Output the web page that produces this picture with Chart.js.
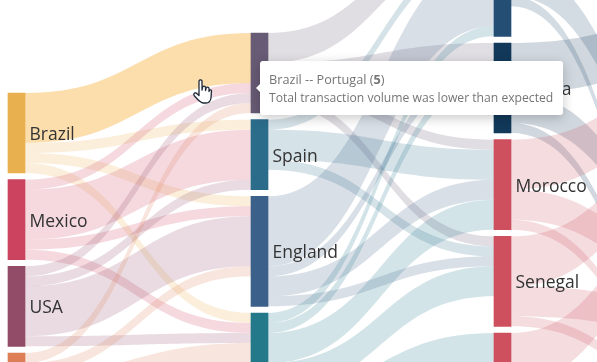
<!DOCTYPE html>
<html>
<head>
<meta charset="utf-8">
<title>Transaction flows</title>
<script src="https://cdn.jsdelivr.net/npm/chart.js@4/dist/chart.umd.min.js"></script>
<style>
    html, body { margin: 0; padding: 0; background: #fff; overflow: hidden; }
    canvas { display: block; }
</style>
</head>
<body>
<canvas id="flows" width="597" height="362"></canvas>
<script>
// Columns, top to bottom.
var columns = [
    ['Brazil', 'Mexico', 'USA', 'Canada'],
    ['Portugal', 'Spain', 'England', 'France'],
    ['South Africa', 'Angola', 'Morocco', 'Senegal', 'Mali'],
    ['China', 'Japan', 'India']
];

var flowFrom = [
    'Brazil', 'Brazil', 'Brazil', 'Brazil',
    'Mexico', 'Mexico', 'Mexico', 'Mexico',
    'USA', 'USA', 'USA', 'USA',
    'Canada', 'Canada', 'Canada',
    'Portugal', 'Portugal', 'Portugal', 'Portugal',
    'Spain', 'Spain', 'Spain',
    'England', 'England', 'England', 'England',
    'France', 'France', 'France', 'France', 'France',
    'South Africa', 'South Africa', 'South Africa',
    'Angola', 'Angola', 'Angola',
    'Morocco', 'Morocco', 'Morocco',
    'Senegal', 'Senegal', 'Senegal',
    'Mali', 'Mali', 'Mali'
];
var flowTo = [
    'Portugal', 'Spain', 'England', 'France',
    'Portugal', 'Spain', 'England', 'France',
    'Portugal', 'Spain', 'England', 'France',
    'Portugal', 'England', 'France',
    'South Africa', 'Angola', 'Morocco', 'Senegal',
    'South Africa', 'Morocco', 'Senegal',
    'South Africa', 'Angola', 'Morocco', 'Senegal',
    'South Africa', 'Angola', 'Morocco', 'Senegal', 'Mali',
    'China', 'Japan', 'India',
    'China', 'Japan', 'India',
    'China', 'Japan', 'India',
    'China', 'Japan', 'India',
    'China', 'Japan', 'India'
];
var flowValues = [
    5, 1, 1, 1,
    1, 5, 1, 1,
    1, 1, 5, 1,
    1, 1, 5,
    3, 2, 1, 1,
    1, 3, 1,
    7, 1, 2, 1,
    1, 1, 3, 3, 3,
    5, 3, 1,
    5, 3, 1,
    5, 3, 1,
    5, 3, 1,
    5, 3, 1
];

var nodeColors = {
    'Brazil': '#e9b04f', 'Mexico': '#cc4360', 'USA': '#934c68', 'Canada': '#dd7e57',
    'Portugal': '#685b75', 'Spain': '#2b6c8b', 'England': '#3b6089', 'France': '#23788a',
    'South Africa': '#254e75', 'Angola': '#12395a',
    'Morocco': '#ce4f5e', 'Senegal': '#ce4f5e', 'Mali': '#ce4f5e',
    'China': '#4a7a8c', 'Japan': '#4a7a8c', 'India': '#4a7a8c'
};

var hoveredFlow = 0;
var tooltipNote = 'Total transaction volume was lower than expected';

var NODE_GAP = 2 / 3;
var NODE_WIDTH = 17;
var LINK_ALPHA = 0.2;
var LABEL_FONT = '17.5px "Open Sans", sans-serif';

/**
 * Stack the nodes of every column up from zero and hand out each flow its slice at both ends.
 */
function buildLayout() {
    var nodes = {};
    var links = [];

    columns.forEach(function (names, col) {
        var sizes = names.map(function (name) {
            var inSum = 0;
            var outSum = 0;
            flowValues.forEach(function (v, i) {
                if (flowTo[i] === name) { inSum += v; }
                if (flowFrom[i] === name) { outSum += v; }
            });
            return Math.max(inSum, outSum);
        });
        var level = sizes.reduce(function (a, b) { return a + b; }, 0) + NODE_GAP * (names.length - 1);
        names.forEach(function (name, i) {
            nodes[name] = {name: name, col: col, top: level, bottom: level - sizes[i], outY: level, inY: level};
            level -= sizes[i] + NODE_GAP;
        });
    });

    flowValues.forEach(function (v, i) {
        links.push({index: i, from: nodes[flowFrom[i]], to: nodes[flowTo[i]], value: v});
    });

    // Slices follow the order of the nodes on the far side.
    links.slice().sort(function (a, b) {
        return a.to.col - b.to.col || columns[a.to.col].indexOf(a.to.name) - columns[b.to.col].indexOf(b.to.name);
    }).forEach(function (l) {
        l.y0 = l.from.outY;
        l.from.outY -= l.value;
    });
    links.slice().sort(function (a, b) {
        return a.from.col - b.from.col ||
            columns[a.from.col].indexOf(a.from.name) - columns[b.from.col].indexOf(b.from.name);
    }).forEach(function (l) {
        l.y1 = l.to.inY;
        l.to.inY -= l.value;
    });

    return {nodes: nodes, links: links};
}

var layout = buildLayout();

function hexToRgba(hex, alpha) {
    var n = parseInt(hex.slice(1), 16);
    return 'rgba(' + (n >> 16) + ',' + ((n >> 8) & 255) + ',' + (n & 255) + ',' + alpha + ')';
}

var ribbonsPlugin = {
    id: 'ribbons',
    beforeDatasetsDraw: function (chart) {
        var ctx = chart.ctx;
        var x = chart.scales.x;
        var y = chart.scales.y;

        layout.links.forEach(function (l) {
            var x0 = x.getPixelForValue(l.from.col) + NODE_WIDTH / 2;
            var x1 = x.getPixelForValue(l.to.col) - NODE_WIDTH / 2;
            var mid = (x0 + x1) / 2;
            var a0 = y.getPixelForValue(l.y0);
            var a1 = y.getPixelForValue(l.y1);
            var b0 = y.getPixelForValue(l.y0 - l.value);
            var b1 = y.getPixelForValue(l.y1 - l.value);

            ctx.beginPath();
            ctx.moveTo(x0, a0);
            ctx.bezierCurveTo(mid, a0, mid, a1, x1, a1);
            ctx.lineTo(x1, b1);
            ctx.bezierCurveTo(mid, b1, mid, b0, x0, b0);
            ctx.closePath();
            ctx.fillStyle = l.index === hoveredFlow ? 'rgba(250,190,90,0.5)' :
                hexToRgba(nodeColors[l.from.name], LINK_ALPHA);
            ctx.fill();
        });
    }
};

function drawLabels(chart) {
    var ctx = chart.ctx;
    var x = chart.scales.x;
    var y = chart.scales.y;

    ctx.save();
    ctx.font = LABEL_FONT;
    ctx.fillStyle = '#333';
    ctx.textAlign = 'left';
    ctx.textBaseline = 'middle';
    Object.keys(layout.nodes).forEach(function (name) {
        var n = layout.nodes[name];
        ctx.fillText(name, x.getPixelForValue(n.col) + NODE_WIDTH / 2 + 4.5,
            y.getPixelForValue((n.top + n.bottom) / 2) + 2);
    });
    ctx.restore();
}

function drawTooltip(chart) {
    var ctx = chart.ctx;
    var link = layout.links[hoveredFlow];
    var left = 260;
    var top = 61;
    var w = 303;
    var h = 54;
    var tipY = 88;

    ctx.save();
    ctx.shadowColor = 'rgba(0,0,0,0.22)';
    ctx.shadowBlur = 12;
    ctx.shadowOffsetY = 3;
    ctx.fillStyle = '#fff';
    ctx.beginPath();
    ctx.roundRect(left, top, w, h, 3);
    ctx.moveTo(left, tipY - 4);
    ctx.lineTo(left - 4, tipY);
    ctx.lineTo(left, tipY + 4);
    ctx.closePath();
    ctx.fill();
    ctx.restore();

    ctx.save();
    ctx.fillStyle = '#757575';
    ctx.textBaseline = 'alphabetic';
    ctx.font = '12.7px "Open Sans", sans-serif';
    var tx = left + 9;
    var head = link.from.name + ' -- ' + link.to.name + ' (';
    ctx.fillText(head, tx, 84);
    tx += ctx.measureText(head).width;
    ctx.font = 'bold 12.7px "Open Sans", sans-serif';
    ctx.fillText(String(link.value), tx, 84);
    tx += ctx.measureText(String(link.value)).width;
    ctx.font = '12.7px "Open Sans", sans-serif';
    ctx.fillText(')', tx, 84);
    ctx.font = '12.15px "Open Sans", sans-serif';
    ctx.fillText(tooltipNote, left + 9, 102);
    ctx.restore();
}

// The pointer hanging over the hovered ribbon.
function drawCursor(chart) {
    var ctx = chart.ctx;
    var hand = new Path2D('M199 81 a1.6 1.6 0 0 1 3 0 L202 90 L202.5 87.5 a1.5 1.5 0 0 1 3 0.3 L205.5 90.5 ' +
        'L206 88.5 a1.5 1.5 0 0 1 3 0.4 L209 91.5 L209.5 90 a1.4 1.4 0 0 1 2 0.6 L211 98 ' +
        'C210.5 101 209 103 206 103 L203 103 C200 102.5 198 100 194.5 96 ' +
        'C193 94.5 194 92.5 196 93 L199 95.5 Z');
    ctx.save();
    ctx.fillStyle = '#fff';
    ctx.strokeStyle = '#1f2a38';
    ctx.lineWidth = 1.3;
    ctx.lineJoin = 'round';
    ctx.fill(hand);
    ctx.stroke(hand);
    ctx.restore();
}

var overlayPlugin = {
    id: 'overlay',
    afterDatasetsDraw: function (chart) {
        drawLabels(chart);
        drawTooltip(chart);
        drawCursor(chart);
    }
};

var nodeList = Object.keys(layout.nodes).map(function (name) {
    return layout.nodes[name];
});

new Chart(document.getElementById('flows'), {
    type: 'bar',
    data: {
        datasets: [{
            data: nodeList.map(function (n) {
                return {x: n.col, y: [n.bottom, n.top]};
            }),
            backgroundColor: nodeList.map(function (n) {
                return nodeColors[n.name];
            }),
            barThickness: NODE_WIDTH,
            borderWidth: 0
        }]
    },
    options: {
        responsive: false,
        animation: false,
        events: [],
        layout: {padding: 0},
        plugins: {
            legend: {display: false},
            tooltip: {enabled: false}
        },
        scales: {
            // One unit of x is a column, one unit of y is one of transaction volume.
            x: {type: 'linear', display: false, offset: false, min: -16.5 / 243, max: 580.5 / 243},
            y: {type: 'linear', display: false, min: 6.1, max: 42.3}
        }
    },
    plugins: [ribbonsPlugin, overlayPlugin]
});
</script>
</body>
</html>
